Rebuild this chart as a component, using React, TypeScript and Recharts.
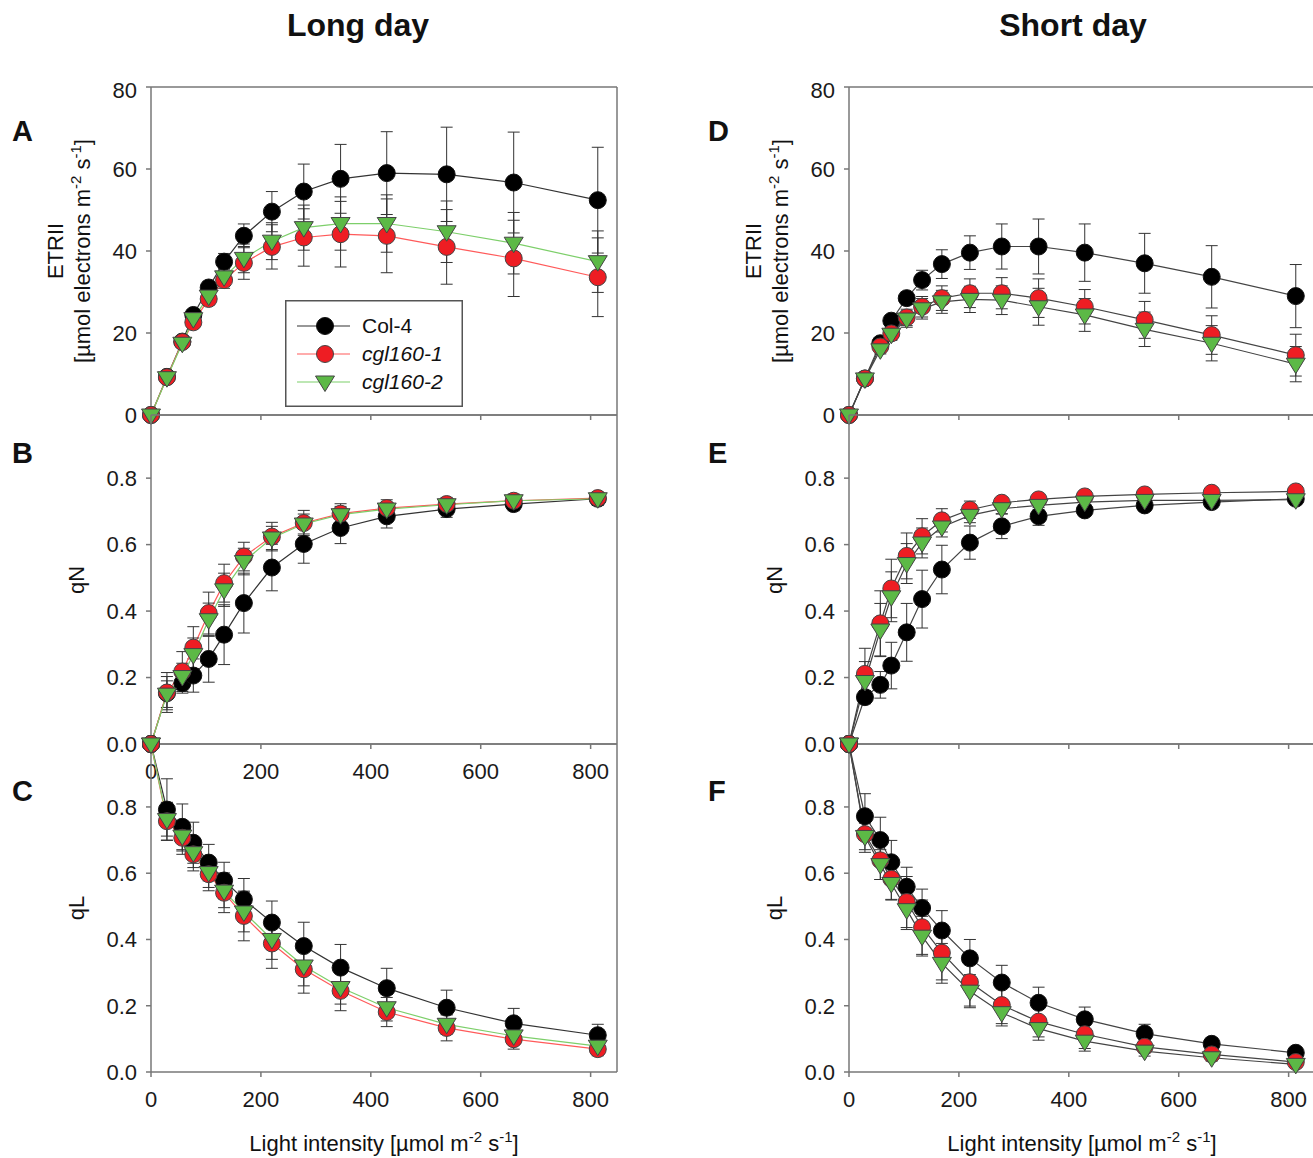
import React from "react";
import { LineChart, Line, XAxis, YAxis, ErrorBar, ReferenceLine, Legend } from "recharts";

// light intensity steps (µmol m-2 s-1)
const lightSteps = [0, 29, 57, 77, 105, 133, 169, 220, 278, 345, 429, 538, 660, 813];

// Long day - ETRII
const colA = [0, 9.3, 17.9, 24.4, 31.1, 37.4, 43.7, 49.6, 54.5, 57.6, 59.0, 58.7, 56.7, 52.4];
const colAErr = [0, 0.8, 1, 1.2, 1.5, 2, 2.9, 4.9, 6.7, 8.4, 10.1, 11.5, 12.3, 12.9];
const c1A = [0, 9.2, 17.8, 22.6, 28.3, 32.9, 37.1, 41.0, 43.3, 44.1, 43.7, 41.0, 38.2, 33.6];
const c1AErr = [0, 0.8, 1, 1.2, 1.5, 2, 4, 5.4, 7, 8, 9, 9.1, 9.3, 9.6];
const c2A = [0, 9.1, 17.5, 23.5, 29.0, 33.7, 38.2, 42.4, 45.7, 46.7, 46.7, 44.7, 41.9, 37.4];
const c2AErr = [0, 0.8, 1, 1.2, 1.5, 2, 3.5, 4.5, 5.5, 6.5, 7, 7.5, 7.5, 7.5];

// Long day - qN
const colB = [0, 0.153, 0.183, 0.206, 0.256, 0.329, 0.424, 0.531, 0.602, 0.65, 0.685, 0.707, 0.722, 0.738];
const colBErr = [0, 0.05, 0.03, 0.05, 0.07, 0.09, 0.09, 0.07, 0.058, 0.047, 0.035, 0.025, 0.02, 0.02];
const c1B = [0, 0.155, 0.218, 0.29, 0.394, 0.484, 0.564, 0.624, 0.665, 0.693, 0.71, 0.722, 0.732, 0.74];
const c1BErr = [0, 0.06, 0.06, 0.063, 0.063, 0.057, 0.043, 0.043, 0.038, 0.03, 0.025, 0.02, 0.02, 0.015];
const c2B = [0, 0.15, 0.203, 0.269, 0.374, 0.464, 0.549, 0.62, 0.662, 0.69, 0.707, 0.72, 0.732, 0.738];
const c2BErr = [0, 0.04, 0.04, 0.05, 0.05, 0.05, 0.04, 0.035, 0.03, 0.025, 0.02, 0.018, 0.015, 0.015];

// Long day - qL
const colC = [0.99, 0.792, 0.74, 0.692, 0.632, 0.578, 0.521, 0.451, 0.38, 0.315, 0.253, 0.194, 0.147, 0.111];
const colCErr = [0, 0.093, 0.069, 0.062, 0.055, 0.055, 0.063, 0.065, 0.072, 0.07, 0.06, 0.053, 0.045, 0.033];
const c1C = [0.99, 0.757, 0.707, 0.657, 0.597, 0.541, 0.471, 0.388, 0.31, 0.245, 0.181, 0.133, 0.099, 0.069];
const c1CErr = [0, 0.057, 0.05, 0.05, 0.05, 0.06, 0.075, 0.075, 0.072, 0.06, 0.044, 0.039, 0.03, 0.02];
const c2C = [0.99, 0.762, 0.712, 0.662, 0.602, 0.546, 0.483, 0.4, 0.32, 0.255, 0.194, 0.144, 0.109, 0.078];
const c2CErr = [0, 0.05, 0.045, 0.045, 0.045, 0.05, 0.06, 0.06, 0.06, 0.05, 0.04, 0.03, 0.025, 0.018];

// Short day - ETRII
const colD = [0, 8.9, 17.5, 23.0, 28.5, 32.9, 36.8, 39.6, 41.1, 41.1, 39.6, 37.0, 33.7, 29.0];
const colDErr = [0, 0.8, 1, 1.2, 1.5, 2.4, 3.5, 4.1, 5.5, 6.7, 7.0, 7.3, 7.6, 7.7];
const c1D = [0, 8.9, 16.7, 19.9, 23.8, 26.4, 28.5, 29.7, 29.7, 28.5, 26.4, 23.2, 19.5, 14.6];
const c1DErr = [0, 0.8, 1, 1.5, 2, 2.5, 3, 3.5, 3.8, 4.7, 4.2, 4.5, 4.7, 5.1];
const c2D = [0, 8.8, 15.9, 19.7, 23.4, 25.9, 27.6, 28.2, 28.0, 26.4, 24.4, 20.9, 17.5, 12.4];
const c2DErr = [0, 0.8, 1, 1.5, 2, 2.5, 2.8, 3.2, 3.5, 4.5, 4, 4.2, 4.3, 4.3];

// Short day - qN
const colE = [0, 0.141, 0.178, 0.236, 0.336, 0.436, 0.525, 0.606, 0.655, 0.685, 0.703, 0.718, 0.728, 0.738];
const colEErr = [0, 0.02, 0.04, 0.07, 0.087, 0.087, 0.073, 0.05, 0.037, 0.027, 0.015, 0.015, 0.012, 0.01];
const c1E = [0, 0.211, 0.363, 0.468, 0.566, 0.625, 0.673, 0.705, 0.726, 0.736, 0.745, 0.751, 0.756, 0.76];
const c1EErr = [0, 0.077, 0.098, 0.088, 0.069, 0.053, 0.035, 0.026, 0.015, 0.012, 0.01, 0.01, 0.01, 0.01];
const c2E = [0, 0.188, 0.343, 0.443, 0.543, 0.605, 0.653, 0.688, 0.708, 0.718, 0.728, 0.733, 0.733, 0.735];
const c2EErr = [0, 0.06, 0.08, 0.075, 0.06, 0.045, 0.03, 0.022, 0.015, 0.012, 0.01, 0.01, 0.01, 0.01];

// Short day - qL
const colF = [0.99, 0.772, 0.7, 0.633, 0.559, 0.495, 0.427, 0.343, 0.27, 0.209, 0.159, 0.116, 0.085, 0.058];
const colFErr = [0, 0.068, 0.069, 0.066, 0.059, 0.057, 0.06, 0.057, 0.052, 0.047, 0.037, 0.028, 0.018, 0.015];
const c1F = [0.99, 0.718, 0.639, 0.583, 0.513, 0.437, 0.36, 0.271, 0.202, 0.152, 0.114, 0.076, 0.053, 0.03];
const c1FErr = [0, 0.055, 0.058, 0.062, 0.077, 0.082, 0.082, 0.072, 0.056, 0.046, 0.043, 0.018, 0.012, 0.01];
const c2F = [0.99, 0.711, 0.626, 0.569, 0.49, 0.41, 0.328, 0.244, 0.179, 0.131, 0.093, 0.063, 0.043, 0.023];
const c2FErr = [0, 0.04, 0.045, 0.05, 0.06, 0.06, 0.06, 0.05, 0.04, 0.035, 0.03, 0.015, 0.01, 0.01];

const seriesNames = ["Col-4", "cgl160-1", "cgl160-2"];
const xTicks = [0, 200, 400, 600, 800];
const etrTicks = [0, 20, 40, 60, 80];
const qTicks = [0, 0.2, 0.4, 0.6, 0.8];

const FONT = '"Liberation Sans", Arial, sans-serif';
const X_MAX = 848;
const YW = 60; // y axis width
const PW = 466; // plot width
const MT = 10;
const MR = 20;
const XH = 45;
const AXIS = "#777";

const makeRows = (a, ae, b, be, c, ce) =>
  lightSteps.map((x, i) => ({ x, col: a[i], colErr: ae[i], c1: b[i], c1Err: be[i], c2: c[i], c2Err: ce[i] }));

const circleDot = (fill, stroke) => (p) =>
  p.cx == null ? <g key={`e${p.index}`} /> : (
    <circle key={`c${p.index}`} cx={p.cx} cy={p.cy} r={8.5} fill={fill} stroke={stroke} strokeWidth={1} />
  );

const triDot = (fill, stroke) => (p) =>
  p.cx == null ? <g key={`e${p.index}`} /> : (
    <polygon
      key={`t${p.index}`}
      points={`${p.cx - 9.5},${p.cy - 6} ${p.cx + 9.5},${p.cy - 6} ${p.cx},${p.cy + 9.5}`}
      fill={fill}
      stroke={stroke}
      strokeWidth={1}
    />
  );

const markers = [circleDot("#000", "#111"), circleDot("#ee1d23", "#444"), triDot("#5cb946", "#444")];
const keys = ["col", "c1", "c2"];
const leftColors = ["#333", "#ff5a5a", "#7dcf6a"];
const rightColors = ["#444", "#444", "#444"];

const LegendBox = () => (
  <svg width={178} height={107} style={{ display: "block" }}>
    <rect x={0.75} y={0.75} width={176.5} height={105.5} fill="#fff" stroke="#555" strokeWidth={1.5} />
    {seriesNames.map((name, i) => {
      const y = 26 + i * 28;
      const m = markers[i]({ cx: 40, cy: y, index: i });
      return (
        <g key={name}>
          <line x1={12} x2={65} y1={y} y2={y} stroke={leftColors[i]} strokeWidth={1.2} />
          {m}
          <text x={77} y={y + 7} fontSize={21} fontFamily={FONT} fontStyle={i === 0 ? "normal" : "italic"} fill="#111">
            {name}
          </text>
        </g>
      );
    })}
  </svg>
);

const tickStyle = { fontSize: 22, fontFamily: FONT, fill: "#1a1a1a" };

function Panel({ rows, left, top, height, yMax, yTicks, yFmt, xLabels, colors, legend }) {
  return (
    <div style={{ position: "absolute", left: left - YW, top: top - MT }}>
      <LineChart
        width={YW + PW + MR}
        height={MT + height + XH}
        data={rows}
        margin={{ top: MT, right: MR, bottom: 0, left: 0 }}
      >
        <XAxis
          type="number"
          dataKey="x"
          domain={[0, X_MAX]}
          ticks={xTicks}
          height={XH}
          tickSize={5}
          tickMargin={14}
          stroke={AXIS}
          strokeWidth={1.5}
          tick={xLabels ? tickStyle : () => <g />}
        />
        <YAxis
          type="number"
          domain={[0, yMax]}
          ticks={yTicks}
          tickFormatter={yFmt}
          width={YW}
          tickSize={5}
          tickMargin={9}
          stroke={AXIS}
          strokeWidth={1.5}
          tick={tickStyle}
        />
        <ReferenceLine y={yMax} stroke={AXIS} strokeWidth={1.5} />
        <ReferenceLine x={X_MAX} stroke={AXIS} strokeWidth={1.5} />
        {keys.map((k, i) => (
          <Line
            key={k}
            dataKey={k}
            stroke={colors[i]}
            strokeWidth={1.2}
            dot={markers[i]}
            activeDot={false}
            isAnimationActive={false}
          >
            <ErrorBar dataKey={`${k}Err`} width={6} stroke="#333" strokeWidth={1} />
          </Line>
        ))}
        {legend && (
          <Legend
            layout="vertical"
            align="center"
            verticalAlign="middle"
            wrapperStyle={{ position: "absolute", left: 194, top: 223, width: 178, height: 107 }}
            content={() => <LegendBox />}
          />
        )}
      </LineChart>
    </div>
  );
}

// "m-2 s-1]" with real superscripts
const Units = () => (
  <>
    m<tspan dy={-9} fontSize={15}>-2</tspan>
    <tspan dy={9}> s</tspan>
    <tspan dy={-9} fontSize={15}>-1</tspan>
    <tspan dy={9}>]</tspan>
  </>
);

function Labels() {
  const cols = [0, 698];
  return (
    <svg width={1313} height={1158} style={{ position: "absolute", left: 0, top: 0, pointerEvents: "none" }}>
      <g fontFamily={FONT} fill="#111">
        <text x={358} y={36} fontSize={32} fontWeight="bold" textAnchor="middle">Long day</text>
        <text x={1073} y={36} fontSize={32} fontWeight="bold" textAnchor="middle">Short day</text>
        {[["A", "D", 141], ["B", "E", 463], ["C", "F", 801]].map(([l, r, y]) => (
          <g key={l as string}>
            <text x={12} y={y as number} fontSize={29} fontWeight="bold">{l}</text>
            <text x={708} y={y as number} fontSize={29} fontWeight="bold">{r}</text>
          </g>
        ))}
        {cols.map((dx) => (
          <g key={dx} fontSize={22}>
            <text transform={`translate(${63 + dx},251) rotate(-90)`} textAnchor="middle">ETRII</text>
            <text transform={`translate(${90 + dx},251) rotate(-90)`} textAnchor="middle">
              [µmol electrons <Units />
            </text>
            <text transform={`translate(${84 + dx},580) rotate(-90)`} textAnchor="middle">qN</text>
            <text transform={`translate(${84 + dx},908) rotate(-90)`} textAnchor="middle">qL</text>
            <text x={384 + dx} y={1151} textAnchor="middle">
              Light intensity [µmol <Units />
            </text>
          </g>
        ))}
      </g>
    </svg>
  );
}

const fmtInt = (v) => String(v);
const fmtDec = (v) => v.toFixed(1);

export default function App() {
  return (
    <div style={{ position: "absolute", left: 0, top: 0, width: 1313, height: 1158, overflow: "hidden", background: "#fff" }}>
      <Panel rows={makeRows(colA, colAErr, c1A, c1AErr, c2A, c2AErr)} left={151} top={87} height={328} yMax={80} yTicks={etrTicks} yFmt={fmtInt} xLabels={false} colors={leftColors} legend />
      <Panel rows={makeRows(colB, colBErr, c1B, c1BErr, c2B, c2BErr)} left={151} top={415} height={329} yMax={0.99} yTicks={qTicks} yFmt={fmtDec} xLabels colors={leftColors} />
      <Panel rows={makeRows(colC, colCErr, c1C, c1CErr, c2C, c2CErr)} left={151} top={744} height={328} yMax={0.99} yTicks={qTicks} yFmt={fmtDec} xLabels colors={leftColors} />
      <Panel rows={makeRows(colD, colDErr, c1D, c1DErr, c2D, c2DErr)} left={849} top={87} height={328} yMax={80} yTicks={etrTicks} yFmt={fmtInt} xLabels={false} colors={rightColors} />
      <Panel rows={makeRows(colE, colEErr, c1E, c1EErr, c2E, c2EErr)} left={849} top={415} height={329} yMax={0.99} yTicks={qTicks} yFmt={fmtDec} xLabels={false} colors={rightColors} />
      <Panel rows={makeRows(colF, colFErr, c1F, c1FErr, c2F, c2FErr)} left={849} top={744} height={328} yMax={0.99} yTicks={qTicks} yFmt={fmtDec} xLabels colors={rightColors} />
      <Labels />
    </div>
  );
}
